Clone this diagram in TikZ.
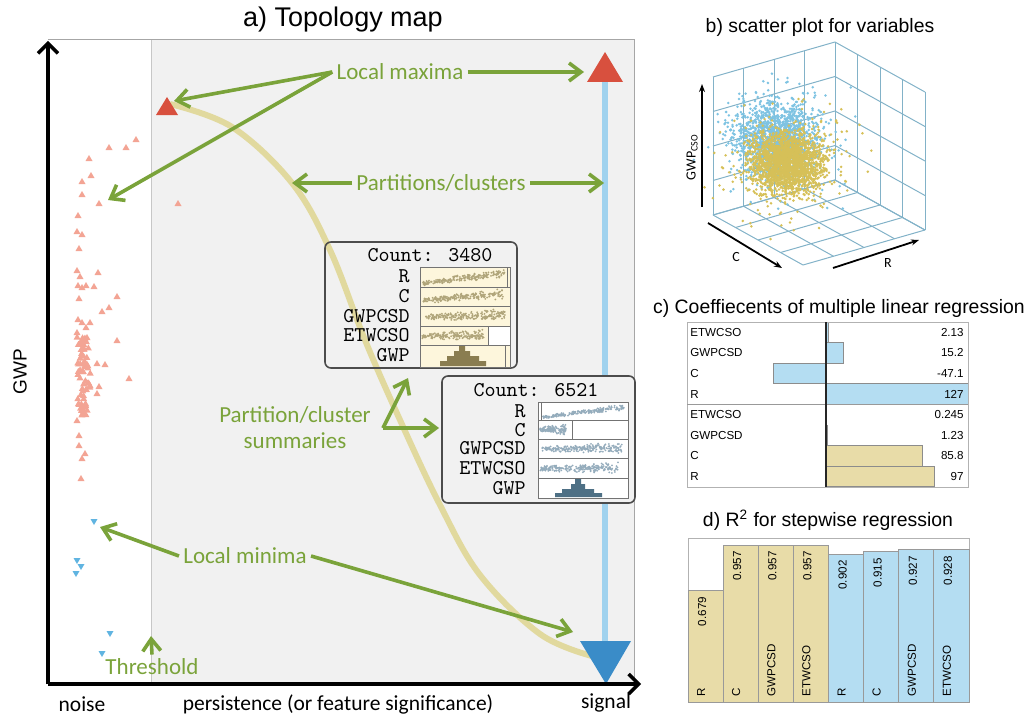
\documentclass[tikz,border=0pt]{standalone}
\usepackage{fontspec}
\setmainfont{Liberation Sans}
\newfontfamily\cbfont{Carlito}
\usetikzlibrary{arrows.meta,calc}

\definecolor{gbg}{RGB}{241,241,241}
\definecolor{grn}{RGB}{122,163,58}
\definecolor{triR}{RGB}{216,80,62}
\definecolor{triB}{RGB}{58,140,200}
\definecolor{sig}{RGB}{160,210,238}
\definecolor{curveY}{RGB}{224,215,150}
\definecolor{noiseR}{RGB}{243,164,148}
\definecolor{noiseB}{RGB}{96,180,225}
\definecolor{cream}{RGB}{253,246,220}
\definecolor{khak}{RGB}{176,165,122}
\definecolor{khakD}{RGB}{138,125,80}
\definecolor{bgray}{RGB}{148,172,188}
\definecolor{bgrayD}{RGB}{78,112,133}
\definecolor{barB}{RGB}{180,221,242}
\definecolor{barY}{RGB}{232,220,168}
\definecolor{cubeL}{RGB}{130,178,200}
\definecolor{dotB}{RGB}{126,195,226}
\definecolor{dotY}{RGB}{214,192,88}

% mini scatter in one summary cell: x0, x1, ymid, rise, spread, colour, count
\newcommand\cellpts[7]{%
  \foreach \k in {1,...,#7}{
    \pgfmathsetmacro\tv{rnd}
    \pgfmathsetmacro\mx{#1+\tv*(#2-#1)}
    \pgfmathsetmacro\my{#3+#4*(0.5-\tv)+#5*(rand+rand)*(0.45+0.55*\tv)}
    \fill[#6] (\mx,\my) circle (0.5pt);
  }}

% gaussian-ish cloud: count, cx, cy, sx, sy, colour
\newcommand\cloudpts[6]{%
  \foreach \k in {1,...,#1}{
    \pgfmathsetmacro\sx{#2+#4*(rand+rand+rand)}
    \pgfmathsetmacro\sy{#3+#5*(rand+rand+rand)}
    \fill[#6] (\sx,\sy) circle (0.7pt);
  }}

\tikzset{
  garrow/.style={grn, line width=1.8pt, -{Straight Barb[length=6pt,width=9pt]}},
  glab/.style={text=grn, font=\cbfont\fontsize{11.5}{13}\selectfont, inner sep=2pt},
  axlab/.style={font=\cbfont\fontsize{10.75}{12}\selectfont},
  axis/.style={line width=1.7pt, -{Straight Barb[length=5pt,width=10pt]}},
  ttl/.style={font=\fontsize{9.7}{11}\selectfont},
  cntbox/.style={draw=black!70, line width=0.8pt, rounded corners=3pt},
  cnt/.style={font=\ttfamily\fontsize{10.5}{11}\selectfont},
  rowlab/.style={font=\ttfamily\fontsize{10.5}{11}\selectfont, anchor=east, inner sep=1pt},
  cell/.style={draw=black!55, line width=0.4pt},
  small/.style={font=\fontsize{5.8}{6}\selectfont, inner sep=1pt},
  cubel/.style={cubeL, line width=0.5pt},
  noisept/.style={fill=noiseR},
}

\begin{document}
\begin{tikzpicture}[x=0.5pt, y=-0.5pt]
\useasboundingbox (0,0) rectangle (1026,717);

% ---------------- a) topology map ----------------
\node[font=\fontsize{13.5}{15}\selectfont] (ta) at (343,20) {a) Topology map};

\fill[gbg] (151,40) rectangle (634,684);
\draw[black!35, line width=0.5pt] (48,40) -- (634,40) -- (634,684);
\draw[black!22, line width=0.5pt] (151,40) -- (151,684);

% noise: small maxima
\foreach \x/\y in {109/147,126/147,136/139,89/158,91/175,82/181,82/194,99/203,
    78/215,77/231,82/234,79/248,77/270,80/276,98/272,78/285,82/287,86/285,
    94/286,117/296,79/298,109/307,102/311,78/319,90/322,82/322,86/327,77/332,
    87/337,117/340,97/363,105/364,129/378,90/385,99/386,97/393,77/420,79/435,
    79/445,85/453,82/458,81/478,178/203} {
  \fill[noisept] (\x,\y) ++(-3.5,3) -- ++(7,0) -- ++(-3.5,-6) -- cycle;
}
\pgfmathsetseed{7}
\foreach \k in {1,...,70} {
  \pgfmathsetmacro\nx{83+4*(rand+rand)}
  \pgfmathsetmacro\ny{335+82*rnd}
  \fill[noisept] (\nx,\ny) ++(-3.5,3) -- ++(7,0) -- ++(-3.5,-6) -- cycle;
}
% noise: small minima
\foreach \x/\y in {94/522,77/561,81/567,76/574,110/634,102/654} {
  \fill[noiseB] (\x,\y) ++(-3.5,-3) -- ++(7,0) -- ++(-3.5,6) -- cycle;
}

% signal line and partition curve
\draw[sig, line width=3pt] (605,80) -- (605,642);
\draw[curveY, line width=3pt, opacity=0.9] plot[smooth, tension=0.6] coordinates
  {(170,104) (232,127) (292,183) (330,250) (365,340) (400,420) (440,505)
   (480,575) (540,634) (592,656)};

% extrema
\fill[triR] (156,115) -- (178,115) -- (167,97) -- cycle;
\fill[triR] (587,82) -- (623,82) -- (605,52) -- cycle;
\fill[triB] (580,641) -- (631,641) -- (606,684) -- cycle;
\coordinate (maxS) at (174,101);
\coordinate (maxN) at (108,200);
\coordinate (maxB) at (584,72);
\coordinate (minN) at (100,527);
\coordinate (minB) at (573,632);

% summary box 1
\draw[cntbox] (325,242) rectangle (517,368);
\node[cnt] (c1) at (430,255) {Count: 3480};
\foreach \y/\t in {276/R,296/C,316/GWPCSD,335/ETWCSO,355/GWP} {
  \node[rowlab] at (412,\y) {\t};
}
\fill[cream] (420,267) rectangle (510,367);
\fill[white] (488,326) rectangle (510,345);
\foreach \ya/\yb in {267/287,287/306,306/326,326/345,345/367} {
  \draw[cell] (420,\ya) rectangle (510,\yb);
}
\draw[cell] (507,267) -- (507,287) (488,326) -- (488,345) (505,345) -- (505,367);
\pgfmathsetseed{11}
\cellpts{423}{505}{278}{11}{2.6}{khak}{220}
\cellpts{423}{503}{297}{7}{3}{khak}{220}
\cellpts{424}{505}{316}{2}{3.2}{khak}{220}
\cellpts{422}{484}{335.5}{1}{3.2}{khak}{180}
\fill[khakD] (440,366) rectangle (486,361) (447,361) rectangle (479,356)
  (454,356) rectangle (470,351) (459,351) rectangle (465,346);

% summary box 2
\draw[cntbox, fill=gbg] (442,376) rectangle (635,503);
\node[cnt] (c2) at (536,390) {Count: 6521};
\foreach \y/\t in {411/R,430/C,448/GWPCSD,468/ETWCSO,488/GWP} {
  \node[rowlab] at (528,\y) {\t};
}
\fill[white] (538,402) rectangle (628,498);
\foreach \ya/\yb in {402/420,420/439,439/458,458/478,478/498} {
  \draw[cell] (538,\ya) rectangle (628,\yb);
}
\draw[cell] (541,402) -- (541,420) (572,420) -- (572,439);
\cellpts{543}{624}{412}{10}{1.8}{bgray}{200}
\cellpts{540}{566}{429.5}{0}{3}{bgray}{130}
\cellpts{542}{622}{448.5}{1}{3}{bgray}{220}
\cellpts{540}{618}{468}{1}{3.2}{bgray}{220}
\fill[bgrayD] (555,497) rectangle (602,493) (562,493) rectangle (594,489)
  (571,489) rectangle (585,484) (575,484) rectangle (581,479);

% green labels and arrows
\node[glab] (lmax) at (400,72) {Local maxima};
\draw[garrow] (lmax.west) -- (maxS);
\draw[garrow] (lmax.west) -- (maxN);
\draw[garrow] (lmax.east) -- (maxB);

\node[glab] (part) at (441,183) {Partitions/clusters};
\coordinate (curP) at (292,183);
\coordinate (sigP) at (604,183);
\draw[garrow] (part.west) -- (curP);
\draw[garrow] (part.east) -- (sigP);

\node[glab, align=center] (summ) at (295,428) {Partition/cluster\\summaries};
\coordinate (fork) at (383,428);
\coordinate (b1P) at (408,378);
\coordinate (b2P) at (439,428);
\draw[garrow] (fork) -- (b1P);
\draw[garrow] (fork) -- (b2P);

\node[glab] (lmin) at (245,556) {Local minima};
\draw[garrow] (lmin.west) -- (minN);
\draw[garrow] (lmin.east) -- (minB);

\node[glab] (thr) at (152,667) {Threshold};
\coordinate (thrP) at (151,636);
\draw[garrow] (thr.north) -- (thrP);

% axes
\coordinate (o) at (48,684);
\coordinate (yt) at (48,41);
\coordinate (xt) at (641,684);
\draw[axis] (o) -- (yt);
\draw[axis] (o) -- (xt);
\node[font=\fontsize{9.5}{10}\selectfont, rotate=90] (gwp) at (20,372) {GWP};
\node[axlab] (noise) at (82,704) {noise};
\node[axlab] (pers) at (338,704) {persistence (or feature significance)};
\node[axlab] (signal) at (606,703) {signal};

% ---------------- b) scatter plot ----------------
\node[ttl] (tb) at (820,27) {b) scatter plot for variables};
\begin{scope}[shift={(417.5pt,-90pt)}, x={(-15.25pt,-4.375pt)},
    y={(11.25pt,-6.25pt)}, z={(0pt,17.25pt)}]
  \foreach \i in {0,...,4} {
    \draw[cubel] (\i,0,0) -- (\i,4,0);
    \draw[cubel] (0,\i,0) -- (4,\i,0);
    \draw[cubel] (\i,0,0) -- (\i,0,4);
    \draw[cubel] (0,0,\i) -- (4,0,\i);
    \draw[cubel] (0,\i,0) -- (0,\i,4);
    \draw[cubel] (0,0,\i) -- (0,4,\i);
  }
\end{scope}
\pgfmathsetseed{3}
\cloudpts{250}{778}{140}{32}{28}{dotB}
\cloudpts{1300}{776}{140}{20}{18}{dotB}
\cloudpts{300}{790}{165}{32}{27}{dotY}
\cloudpts{1900}{786}{163}{17}{15}{dotY}
\coordinate (gA) at (702,207);
\coordinate (gB) at (702,84);
\coordinate (cA) at (708,223);
\coordinate (cB) at (782,268);
\coordinate (rA) at (833,268);
\coordinate (rB) at (919,240);
\draw[line width=0.9pt, -{Stealth[length=4pt]}] (gA) -- (gB);
\draw[line width=0.9pt, -{Stealth[length=4pt]}] (cA) -- (cB);
\draw[line width=0.9pt, -{Stealth[length=4pt]}] (rA) -- (rB);
\node[font=\cbfont\fontsize{7}{8}\selectfont, rotate=90] (gwpc) at (692,157) {GWP\textsubscript{CSO}};
\node[font=\cbfont\fontsize{7}{8}\selectfont] (cl) at (736,257) {C};
\node[font=\cbfont\fontsize{7}{8}\selectfont] (rl) at (888,263) {R};

% ---------------- c) coefficients ----------------
\node[ttl] (tc) at (839,308) {c) Coeffiecents of multiple linear regression};
\foreach \r/\t/\v/\len in {0/ETWCSO/2.13/2.4, 1/GWPCSD/15.2/17, 2/C/-47.1/-52.7, 3/R/127/142} {
  \pgfmathsetmacro\ya{322+20.6*\r}
  \pgfmathsetmacro\yb{322+20.6*(\r+1)}
  \filldraw[fill=barB, draw=black!45, line width=0.4pt] (826,\ya) rectangle (826+\len,\yb);
  \node[small, anchor=west] at (688,\ya+10.3) {\t};
  \node[small, anchor=east] at (966,\ya+10.3) {\v};
}
\foreach \r/\t/\v/\len in {4/ETWCSO/0.245/0.4, 5/GWPCSD/1.23/1.4, 6/C/85.8/96, 7/R/97/108.5} {
  \pgfmathsetmacro\ya{322+20.6*\r}
  \pgfmathsetmacro\yb{322+20.6*(\r+1)}
  \filldraw[fill=barY, draw=black!45, line width=0.4pt] (826,\ya) rectangle (826+\len,\yb);
  \node[small, anchor=west] at (688,\ya+10.3) {\t};
  \node[small, anchor=east] at (966,\ya+10.3) {\v};
}
\draw[black!30, line width=0.5pt] (687,322) rectangle (968,487);
\draw[black!40, line width=0.5pt] (687,404.4) -- (968,404.4);
\draw[black!85, line width=0.6pt] (826,322) -- (826,487);

% ---------------- d) R^2 ----------------
\node[ttl] (td) at (828,520) {d) R\textsuperscript{2}\ for stepwise regression};
\draw[black!30, line width=0.5pt] (688,538) rectangle (969,702);
\foreach \i/\t/\v/\c in {0/R/0.679/barY, 1/C/0.957/barY, 2/GWPCSD/0.957/barY, 3/ETWCSO/0.957/barY,
    4/R/0.902/barB, 5/C/0.915/barB, 6/GWPCSD/0.927/barB, 7/ETWCSO/0.928/barB} {
  \pgfmathsetmacro\xa{688+35.125*\i}
  \pgfmathsetmacro\ytop{702-164*\v}
  \filldraw[fill=\c, draw=black!40, line width=0.5pt] (\xa,702) rectangle (\xa+35.125,\ytop);
  \node[small, rotate=90, anchor=west] at (\xa+13,699) {\t};
  \node[small, rotate=90, anchor=east] at (\xa+14,\ytop+4) {\v};
}
\end{tikzpicture}
\end{document}
